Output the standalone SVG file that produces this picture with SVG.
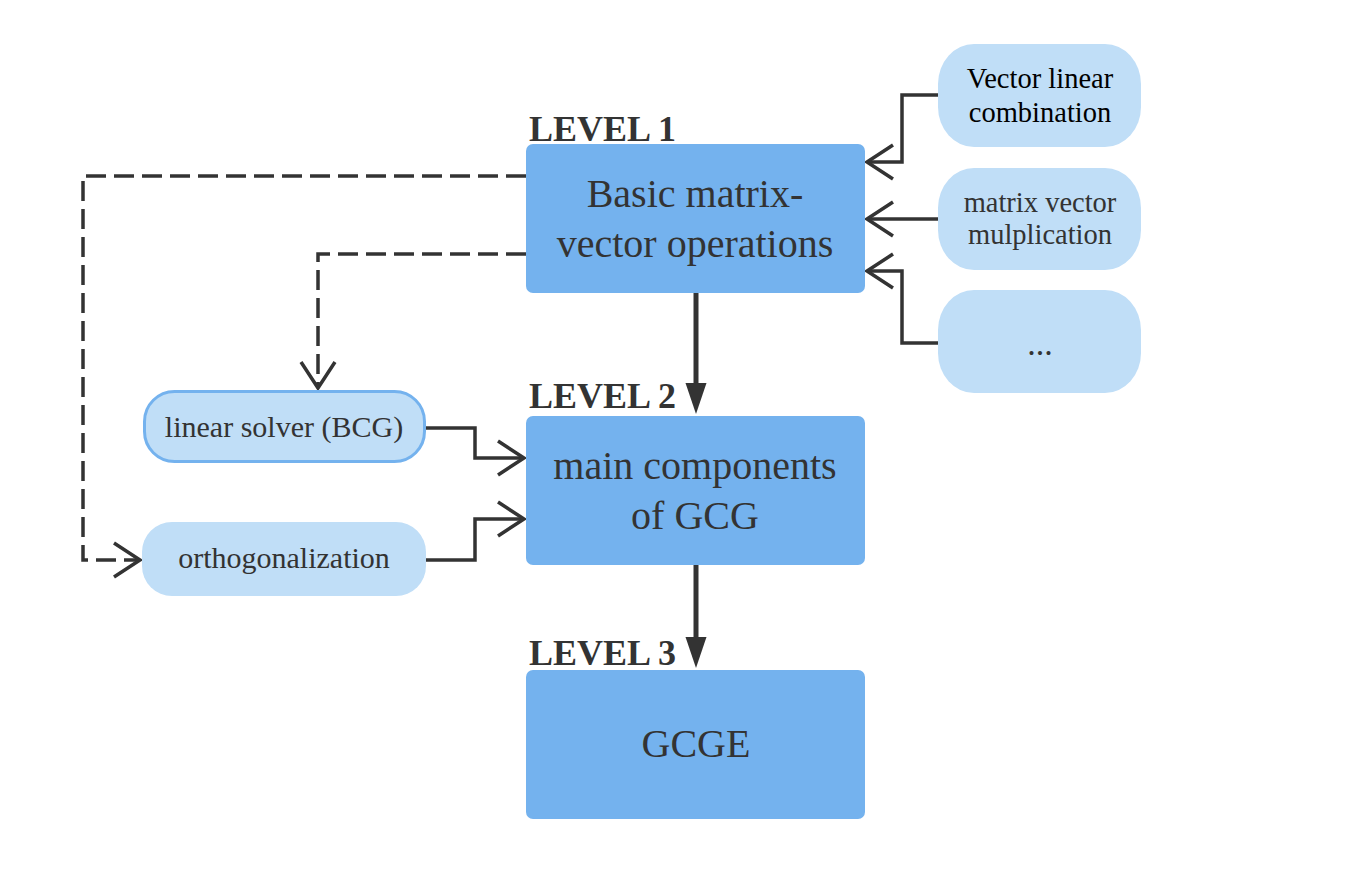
<svg xmlns="http://www.w3.org/2000/svg" width="1350" height="896" viewBox="0 0 1350 896">
<style>
.box{fill:#74b2ee}
.pill{fill:#c0def7}
.t{font-family:"Liberation Serif","Times New Roman",serif;fill:#333;text-anchor:middle}
.big{font-size:40px}
.sm{font-size:28.5px}
.sl{font-size:30px}
.lvl{font-family:"Liberation Serif","Times New Roman",serif;font-weight:bold;font-size:36px;fill:#333}
.ln{fill:none;stroke:#333;stroke-width:3.5}
.dash{stroke-dasharray:20 8}
.thick{fill:none;stroke:#333;stroke-width:5}
</style>
<defs>
<marker id="chev" markerUnits="userSpaceOnUse" markerWidth="40" markerHeight="40" viewBox="-30 -20 40 40" refX="0" refY="0" orient="auto">
<path d="M-26,-17 L0,0 L-26,17" fill="none" stroke="#333" stroke-width="3.5" stroke-dasharray="none"/>
</marker>
</defs>
<rect width="1350" height="896" fill="#fff"/>
<g id="connectors">
<path class="ln" d="M938,95 H902 V162 H867" marker-end="url(#chev)"/>
<path class="ln" d="M938,219 H867" marker-end="url(#chev)"/>
<path class="ln" d="M938,343 H902 V271 H867" marker-end="url(#chev)"/>
<path class="ln dash" d="M526,176 H83 V560 H140" marker-end="url(#chev)"/>
<path class="ln dash" d="M526,254 H318 V388" marker-end="url(#chev)"/>
<path class="ln" d="M425,428 H475 V458 H524" marker-end="url(#chev)"/>
<path class="ln" d="M426,560 H475 V519 H524" marker-end="url(#chev)"/>
<path class="thick" d="M696,293 V386"/>
<polygon points="685.5,383 706.5,383 696,414" fill="#333"/>
<path class="thick" d="M696,565 V640"/>
<polygon points="685.5,637 706.5,637 696,668" fill="#333"/>
</g>
<g id="level1">
<text class="lvl" x="529" y="141">LEVEL 1</text>
<rect class="box" x="526" y="144" width="339" height="149" rx="7"/>
<text class="t big" x="695" y="207">Basic matrix-</text>
<text class="t big" x="695" y="257">vector operations</text>
</g>
<g id="level2">
<text class="lvl" x="529" y="408">LEVEL 2</text>
<rect class="box" x="526" y="416" width="339" height="149" rx="7"/>
<text class="t big" x="695" y="479">main components</text>
<text class="t big" x="695" y="529">of GCG</text>
</g>
<g id="level3">
<text class="lvl" x="529" y="665">LEVEL 3</text>
<rect class="box" x="526" y="670" width="339" height="149" rx="7"/>
<text class="t big" x="696" y="757">GCGE</text>
</g>
<g id="vec-lin-comb">
<rect class="pill" x="938" y="44" width="203" height="103" rx="36" ry="40"/>
<text class="t sm" x="1040" y="88" style="fill:#000">Vector linear</text>
<text class="t sm" x="1040" y="122" style="fill:#000">combination</text>
</g>
<g id="mat-vec-mul">
<rect class="pill" x="938" y="168" width="203" height="102" rx="36" ry="40"/>
<text class="t sm" x="1040" y="212">matrix vector</text>
<text class="t sm" x="1040" y="244">mulplication</text>
</g>
<g id="etc">
<rect class="pill" x="938" y="290" width="203" height="103" rx="36" ry="40"/>
<text class="t sm" x="1040" y="355" style="font-size:34px">...</text>
</g>
<g id="linear-solver">
<rect class="pill" x="144.5" y="391.5" width="280" height="70" rx="30" style="stroke:#74b2ee;stroke-width:3"/>
<text class="t sl" x="284" y="437">linear solver (BCG)</text>
</g>
<g id="orthogonalization">
<rect class="pill" x="142" y="522" width="284" height="74" rx="30"/>
<text class="t sl" x="284" y="568">orthogonalization</text>
</g>
</svg>
